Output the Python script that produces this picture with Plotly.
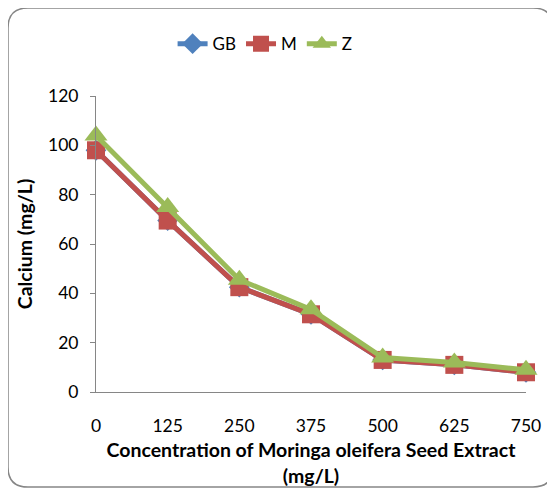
import plotly.graph_objects as go

# Calcium vs. Moringa oleifera seed extract dose
concentration = [0, 125, 250, 375, 500, 625, 750]
gb = [98, 69.5, 42.5, 31.5, 13, 11, 8]
m = [98, 69.5, 42.5, 31.5, 13, 11, 8]
z = [104, 75, 45.5, 33.5, 14, 12, 9]

font_name = 'Lato'

fig = go.Figure()
fig.add_trace(go.Scatter(x=concentration, y=gb, name='GB', mode='lines+markers',
                         line=dict(color='#4F81BD', width=5),
                         marker=dict(symbol='diamond', size=16, color='#4F81BD'),
                         cliponaxis=False))
fig.add_trace(go.Scatter(x=concentration, y=m, name='M', mode='lines+markers',
                         line=dict(color='#C0504D', width=5),
                         marker=dict(symbol='square', size=18, color='#C0504D'),
                         cliponaxis=False))
fig.add_trace(go.Scatter(x=concentration, y=z, name='Z', mode='lines+markers',
                         line=dict(color='#9BBB59', width=5),
                         marker=dict(symbol='triangle-up', size=20, color='#9BBB59'),
                         cliponaxis=False))

fig.update_xaxes(range=[0, 750], tickvals=concentration, automargin=False,
                 showline=True, linecolor='#868686', linewidth=1,
                 showgrid=False, zeroline=False, ticks='',
                 ticklabelstandoff=18,
                 tickfont=dict(size=17.5, color='black'),
                 title=dict(text='<b>Concentration of Moringa oleifera Seed Extract<br>(mg/L)</b>',
                            font=dict(size=19.5, color='black'), standoff=8))
fig.update_yaxes(range=[0, 120], dtick=20, automargin=False,
                 showline=True, linecolor='#868686', linewidth=1,
                 showgrid=False, zeroline=False,
                 ticks='outside', ticklen=5, tickcolor='#868686',
                 ticklabelstandoff=8,
                 tickfont=dict(size=17.5, color='black'),
                 title=dict(text='<b>Calcium (mg/L)</b>', font=dict(size=19.5, color='black'),
                            standoff=10))

# rounded chart border, drawn in pixels from the bottom-left plot corner
fig.add_shape(type='path', xref='paper', yref='paper',
              xsizemode='pixel', ysizemode='pixel', xanchor=0, yanchor=0,
              path='M -68,384 L 437,384 Q 457,384 457,364 L 457,-75 Q 457,-95 437,-95 '
                   'L -68,-95 Q -88,-95 -88,-75 L -88,364 Q -88,384 -68,384 Z',
              line=dict(color='#868686', width=1.5), layer='below')

fig.update_layout(
    width=547, height=481,
    margin=dict(l=88, r=29, t=88, b=97),
    paper_bgcolor='white', plot_bgcolor='white',
    font=dict(family=font_name, size=17, color='black'),
    showlegend=True,
    legend=dict(orientation='h', xref='container', x=0.47, xanchor='center',
                yref='container', y=0.925, yanchor='middle',
                font=dict(size=17), traceorder='normal'),
)

fig.write_html('out.html')
